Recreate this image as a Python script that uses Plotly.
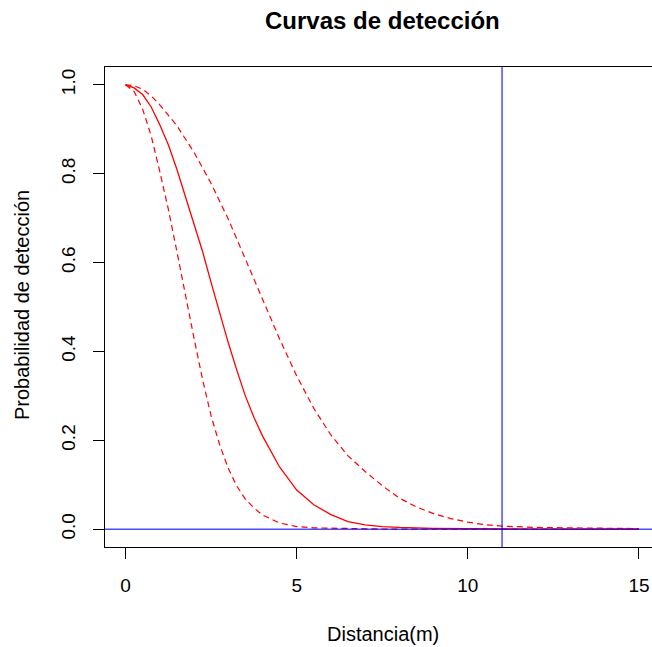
import plotly.graph_objects as go

# Distance (m) and detection probability
dist_est = [0, 0.25, 0.5, 0.75, 1.0, 1.25, 1.5, 1.75, 2.0, 2.25, 2.5, 2.75, 3.0, 3.25,
            3.5, 3.75, 4.0, 4.5, 5.0, 5.5, 6.0, 6.5, 7.0, 7.5, 8.0, 9.0, 10.0, 12.0, 15.0]
prob_est = [1.0, 0.993, 0.978, 0.95, 0.91, 0.865, 0.81, 0.75, 0.69, 0.625, 0.555, 0.487, 0.42, 0.358,
            0.30, 0.252, 0.21, 0.14, 0.088, 0.055, 0.033, 0.017, 0.010, 0.006, 0.004, 0.002, 0.001, 0.0, 0.0]

dist_low = [0, 0.25, 0.5, 0.75, 1.0, 1.25, 1.5, 1.75, 2.0, 2.25, 2.5, 2.75, 3.0, 3.25,
            3.5, 3.75, 4.0, 4.5, 5.0, 5.5, 6.0, 7.0, 8.0, 10.0, 15.0]
prob_low = [1.0, 0.985, 0.945, 0.885, 0.805, 0.72, 0.625, 0.525, 0.43, 0.337, 0.255, 0.19, 0.137, 0.097,
            0.068, 0.048, 0.032, 0.014, 0.006, 0.003, 0.002, 0.001, 0.0, 0.0, 0.0]

dist_up = [0, 0.25, 0.5, 0.75, 1.0, 1.5, 2.0, 2.5, 3.0, 3.5, 4.0, 4.5, 5.0, 5.5, 6.0, 6.5,
           7.0, 7.5, 8.0, 8.5, 9.0, 9.5, 10.0, 10.5, 11.0, 11.5, 12.0, 13.0, 14.0, 15.0]
prob_up = [1.0, 0.998, 0.99, 0.975, 0.955, 0.908, 0.848, 0.778, 0.698, 0.607, 0.515, 0.428, 0.345, 0.272,
           0.212, 0.165, 0.13, 0.098, 0.07, 0.05, 0.035, 0.024, 0.016, 0.010, 0.007, 0.005, 0.004,
           0.003, 0.002, 0.0015]

x_ticks = [0, 5, 10, 15]
y_ticks = [0.0, 0.2, 0.4, 0.6, 0.8, 1.0]
y_tick_labels = ["0.0", "0.2", "0.4", "0.6", "0.8", "1.0"]
v_line = 11
h_line = 0

FONT = "Liberation Sans, Arial, Helvetica, sans-serif"
RED = "#ff0000"
BLUE = "rgba(0,0,255,0.7)"
DASH = "6px,4px"

fig = go.Figure()
fig.add_trace(go.Scatter(x=dist_low, y=prob_low, mode="lines",
                         line=dict(color=RED, width=1.2, dash=DASH), showlegend=False))
fig.add_trace(go.Scatter(x=dist_up, y=prob_up, mode="lines",
                         line=dict(color=RED, width=1.2, dash=DASH), showlegend=False))
fig.add_trace(go.Scatter(x=dist_est, y=prob_est, mode="lines",
                         line=dict(color=RED, width=1.3), showlegend=False))

fig.add_shape(type="line", xref="x", yref="paper", x0=v_line, x1=v_line, y0=0, y1=1,
              line=dict(color=BLUE, width=1.5), layer="above")
fig.add_shape(type="line", xref="paper", yref="y", x0=0, x1=1, y0=h_line, y1=h_line,
              line=dict(color=BLUE, width=1.5), layer="above")

L, T, B = 105, 67, 100
W, H = 652, 647
pw = W - L
ph = H - T - B

def px_x(p):
    return (p - L) / pw

def px_y(p):
    return (H - B - p) / ph

fig.add_annotation(text="<b>Curvas de detección</b>", xref="paper", yref="paper",
                   x=px_x(382.5), y=px_y(20), showarrow=False,
                   font=dict(family=FONT, size=24, color="black"), xanchor="center", yanchor="middle")
fig.add_annotation(text="Distancia(m)", xref="paper", yref="paper",
                   x=px_x(382.5), y=px_y(634), showarrow=False,
                   font=dict(family=FONT, size=20, color="black"), xanchor="center", yanchor="middle")
fig.add_annotation(text="Probabilidad de detección", xref="paper", yref="paper",
                   x=px_x(22), y=px_y(305), showarrow=False, textangle=-90,
                   font=dict(family=FONT, size=20, color="black"), xanchor="center", yanchor="middle")

fig.update_layout(
    width=W, height=H,
    margin=dict(l=L, r=0, t=T, b=B, pad=0),
    paper_bgcolor="white", plot_bgcolor="white",
    font=dict(family=FONT, size=19, color="black"),
    xaxis=dict(range=[-0.6, 15.38], tickvals=x_ticks, ticks="outside", ticklen=11,
               tickcolor="black", tickwidth=1, showline=True, linecolor="black", linewidth=1,
               mirror=True, showgrid=False, zeroline=False, ticklabelstandoff=10,
               tickfont=dict(family=FONT, size=19, color="black")),
    yaxis=dict(range=[-0.04, 1.04], tickvals=y_ticks, ticktext=y_tick_labels, ticks="outside",
               ticklen=11, tickcolor="black", tickwidth=1, showline=True, linecolor="black",
               linewidth=1, mirror=False, showgrid=False, zeroline=False, tickangle=-90,
               ticklabelstandoff=10,
               tickfont=dict(family=FONT, size=19, color="black")),
)

fig.write_html("out.html", config={"displayModeBar": False},
               post_script="document.body.style.margin='0px';document.body.style.overflow='hidden';")
